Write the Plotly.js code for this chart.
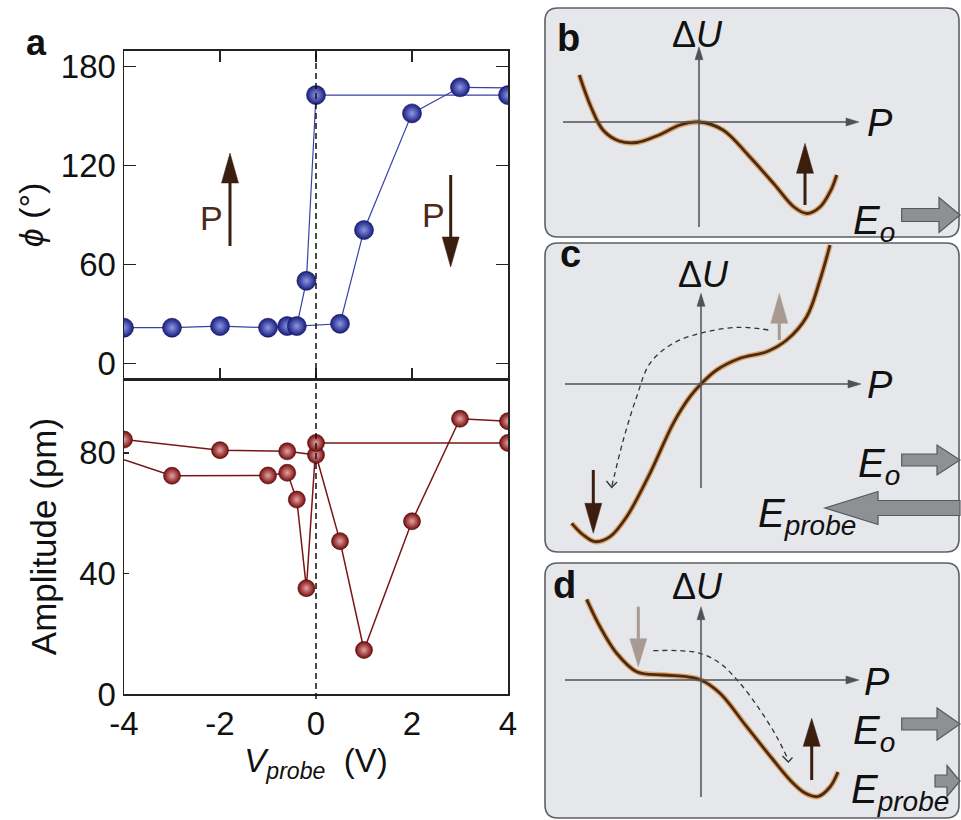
<!DOCTYPE html>
<html><head><meta charset="utf-8">
<script src="https://cdn.plot.ly/plotly-3.0.1.min.js"></script>
<style>html,body{margin:0;padding:0;background:#fff}#chart{width:961px;height:820px}</style>
</head><body><div id="chart"></div>
<script>
// ---------- Panel a data ----------
const vPhaseUp = [-4,-3,-2,-1,-0.6,-0.4,-0.2,0,4];
const phaseUp  = [21.6,21.6,22.6,21.6,22.6,22.6,50,162.6,162.6];
const vPhaseDn = [-0.4,0.5,1,2,3,4];
const phaseDn  = [22.6,24,80.8,151.5,167.3,167];
const vAmpA = [-4,-2,-0.6,0,0.5,1,2,3,4];
const ampA  = [84.4,80.9,80.5,79.3,50.7,14.6,57.3,91.3,90.5];
const vAmpB = [-4,-3,-1,-0.6,-0.4,-0.2,0,4];
const ampB  = [77.7,72.4,72.5,73.4,64.5,35.1,83.3,83.3];
const phaseTicks = [0,60,120,180];
const ampTicks = [0,40,80];
const vTicks = [-4,-2,0,2,4];
const vTickText = ['-4','-2','0','2','4'];

const curveB_P = [-119.7,-108,-96,-80,-62,-40,-19,0,24,50,75,95,108,121,132,137.7];
const curveB_U = [47,15,-8,-19,-20.5,-13,-3,0,-8,-34,-62,-85,-91.5,-85,-68,-53];
const curveC_P = [-129.3,-117.7,-106,-91,-74.3,-51,-27.7,-11,0,15.7,39,65.7,85.7,105.7,119,129];
const curveC_U = [-139.3,-151,-157.7,-152.7,-132.7,-89.3,-39.3,-12.7,0,14,25.7,32.3,44,67.3,104,139];
const curveD_P = [-114.3,-101,-84.3,-64.3,-37.7,-14.3,0,19,45.7,72.3,90,104,117,129,137];
const curveD_U = [80.7,53.3,26.7,8.3,5,3.3,0,-13.3,-46.7,-80,-101,-113,-116.5,-107,-92];
const dashC_P = [67.3,39,5.7,-27.7,-51,-64.3,-77.7,-89.3];
const dashC_U = [54,56.7,52.3,40.7,20.7,-12.7,-56,-102.7];
const dashD_P = [-47.7,-21,-1,19,39,59,75.7,87.3];
const dashD_U = [29.3,29.3,26.7,16.7,-3.3,-30,-56.7,-80];

// ---------- helpers ----------
const W = 961, H = 820;
const X = px => px / W, Y = py => 1 - py / H;
const FONT = 'Liberation Sans, Arial, sans-serif';
function pathPx(pts, close) {
  return pts.map((p, i) => (i ? 'L' : 'M') + X(p[0]).toFixed(5) + ',' + Y(p[1]).toFixed(5)).join(' ') + (close ? ' Z' : '');
}
function pp(x, y) { return X(x).toFixed(5) + ',' + Y(y).toFixed(5); }
function roundRect(l, t, r, b, rad) {
  return 'M' + pp(l + rad, t) + ' L' + pp(r - rad, t) + ' Q' + pp(r, t) + ' ' + pp(r, t + rad) +
    ' L' + pp(r, b - rad) + ' Q' + pp(r, b) + ' ' + pp(r - rad, b) +
    ' L' + pp(l + rad, b) + ' Q' + pp(l, b) + ' ' + pp(l, b - rad) +
    ' L' + pp(l, t + rad) + ' Q' + pp(l, t) + ' ' + pp(l + rad, t) + ' Z';
}
function arrow(x0, y0, x1, y1, color, lw, headL, headW) {
  const dx = x1 - x0, dy = y1 - y0, len = Math.hypot(dx, dy);
  const ux = dx / len, uy = dy / len, nx = -uy, ny = ux;
  const bx = x1 - ux * headL, by = y1 - uy * headL;
  return [
    {type: 'line', xref: 'paper', yref: 'paper', x0: X(x0), y0: Y(y0), x1: X(bx + ux * 1), y1: Y(by + uy * 1), line: {color: color, width: lw}},
    {type: 'path', xref: 'paper', yref: 'paper', path: pathPx([[bx + nx * headW / 2, by + ny * headW / 2], [bx - nx * headW / 2, by - ny * headW / 2], [x1, y1]], true), fillcolor: color, line: {color: color, width: 0.5}}
  ];
}
function blockArrow(xTail, xTip, yc, bodyH, headH, headL) {
  const s = Math.sign(xTip - xTail), hb = xTip - s * headL;
  return {type: 'path', xref: 'paper', yref: 'paper',
    path: pathPx([[xTail, yc - bodyH / 2], [hb, yc - bodyH / 2], [hb, yc - headH / 2], [xTip, yc], [hb, yc + headH / 2], [hb, yc + bodyH / 2], [xTail, yc + bodyH / 2]], true),
    fillcolor: '#8e9194', line: {color: '#55585c', width: 1.2}};
}
function chevron(pts) {
  return {type: 'path', xref: 'paper', yref: 'paper', path: pathPx(pts, false), line: {color: '#333', width: 1.3}};
}

// ---------- panel geometry ----------
const panels = {
  b: {l: 545, t: 8, r: 959, b: 237, ox: 699, oy: 122, ax: 3},
  c: {l: 545, t: 243, r: 959, b: 552, ox: 701, oy: 384, ax: 4},
  d: {l: 545, t: 563, r: 959, b: 818, ox: 701, oy: 680, ax: 5}
};

// ---------- traces ----------
const blueMarker = {size: 19, color: '#181d7c', gradient: {type: 'radial', color: '#8d97e6'}, line: {width: 0.6, color: '#10145a'}};
const redMarker = {size: 17, color: '#760b0b', gradient: {type: 'radial', color: '#e6a3a3'}, line: {width: 0.6, color: '#4a0606'}};
const blueLine = {color: '#3a40a8', width: 1.2};
const redLine = {color: '#7a1515', width: 1.5};
function lineTrace(x, y, xa, ya, line) { return {x: x, y: y, xaxis: xa, yaxis: ya, mode: 'lines', line: line, cliponaxis: true, showlegend: false}; }
function markTrace(x, y, xa, ya, marker) { return {x: x, y: y, xaxis: xa, yaxis: ya, mode: 'markers', marker: marker, cliponaxis: true, showlegend: false}; }
const traces = [
  lineTrace(vPhaseDn, phaseDn, 'x', 'y', blueLine),
  lineTrace(vPhaseUp, phaseUp, 'x', 'y', blueLine),
  markTrace(vPhaseDn.slice(1, -1), phaseDn.slice(1, -1), 'x', 'y', blueMarker),
  markTrace(vPhaseUp, phaseUp, 'x', 'y', blueMarker),
  lineTrace(vAmpA, ampA, 'x2', 'y2', redLine),
  lineTrace(vAmpB, ampB, 'x2', 'y2', redLine),
  markTrace(vAmpA, ampA, 'x2', 'y2', redMarker),
  markTrace(vAmpB.slice(1), ampB.slice(1), 'x2', 'y2', redMarker)
];
const curves = [[curveB_P, curveB_U, 3], [curveC_P, curveC_U, 4], [curveD_P, curveD_U, 5]];
curves.forEach(([px, py, n]) => {
  traces.push({x: px, y: py, xaxis: 'x' + n, yaxis: 'y' + n, mode: 'lines', line: {color: '#dba873', width: 5.5, shape: 'spline', smoothing: 1}, showlegend: false});
  traces.push({x: px, y: py, xaxis: 'x' + n, yaxis: 'y' + n, mode: 'lines', line: {color: '#4e2a10', width: 2.8, shape: 'spline', smoothing: 1}, showlegend: false});
});
traces.push({x: dashC_P, y: dashC_U, xaxis: 'x4', yaxis: 'y4', mode: 'lines', line: {color: '#333', width: 1.3, dash: '5px,4px', shape: 'spline'}, showlegend: false});
traces.push({x: dashD_P, y: dashD_U, xaxis: 'x5', yaxis: 'y5', mode: 'lines', line: {color: '#333', width: 1.3, dash: '5px,4px', shape: 'spline'}, showlegend: false});

// ---------- layout ----------
const tickFont = {family: FONT, size: 33, color: '#111'};
const axLine = {showline: true, linecolor: '#222', linewidth: 1.5, showgrid: false, zeroline: false, tickcolor: '#222', tickwidth: 1.5, tickfont: tickFont};
const layout = {
  width: W, height: H, margin: {l: 0, r: 0, t: 0, b: 0},
  paper_bgcolor: '#ffffff', plot_bgcolor: 'rgba(0,0,0,0)', showlegend: false,
  font: {family: FONT, color: '#111'},
  xaxis: Object.assign({}, axLine, {domain: [124 / W, 508 / W], range: [-4, 4], anchor: 'y', showticklabels: false, ticks: 'inside', ticklen: 11, mirror: 'ticks', tickvals: vTicks}),
  yaxis: Object.assign({}, axLine, {domain: [1 - 379 / H, 1 - 50.7 / H], range: [-9.5, 189.5], anchor: 'x', ticks: 'inside', ticklen: 12, mirror: 'ticks', tickvals: phaseTicks,
    title: {text: '<i>ϕ</i> (°)', font: {family: FONT, size: 34, color: '#111'}, standoff: 7}}),
  xaxis2: Object.assign({}, axLine, {domain: [124 / W, 508 / W], range: [-4, 4], anchor: 'y2', ticks: '', mirror: true, tickvals: vTicks, ticktext: vTickText,
    title: {text: '<i>V<sub>probe</sub></i>  (V)', font: {family: FONT, size: 33, color: '#111'}, standoff: 4}}),
  yaxis2: Object.assign({}, axLine, {domain: [1 - 694 / H, 1 - 379 / H], range: [0, 104.5], anchor: 'x2', ticks: 'inside', ticklen: 5, mirror: true, tickvals: ampTicks,
    title: {text: 'Amplitude (pm)', font: {family: FONT, size: 35, color: '#111'}, standoff: 12}}),
  shapes: [], annotations: []
};
Object.values(panels).forEach(p => {
  layout['xaxis' + p.ax] = {domain: [p.l / W, p.r / W], range: [p.l - p.ox, p.r - p.ox], anchor: 'y' + p.ax, visible: false, fixedrange: true};
  layout['yaxis' + p.ax] = {domain: [1 - p.b / H, 1 - p.t / H], range: [p.oy - p.b, p.oy - p.t], anchor: 'x' + p.ax, visible: false, fixedrange: true};
  layout.shapes.push({type: 'path', xref: 'paper', yref: 'paper', layer: 'below', path: roundRect(p.l, p.t, p.r, p.b, 13), fillcolor: '#e5e7ea', line: {color: '#5c5f63', width: 1.6}});
});
// zero-voltage dashed line
layout.shapes.push({type: 'line', xref: 'x', yref: 'paper', x0: 0, x1: 0, y0: Y(699), y1: Y(50.7), line: {color: '#111', width: 1.5, dash: '6px,4px'}});
// P arrows in panel a
const brown = '#3b1e0e';
layout.shapes.push(...arrow(230, 246, 230, 153, brown, 3, 30, 17));
layout.shapes.push(...arrow(450.7, 175, 450.7, 267, brown, 3, 30, 17));
// coordinate axes in b, c, d
const axc = '#4b5258';
layout.shapes.push(...arrow(563, 122, 859, 122, axc, 1.5, 13, 8), ...arrow(699, 227, 699, 46.7, axc, 1.5, 13, 8));
layout.shapes.push(...arrow(565, 384, 861, 384, axc, 1.5, 13, 8), ...arrow(701, 488, 701, 293.3, axc, 1.5, 13, 8));
layout.shapes.push(...arrow(565, 680, 859, 680, axc, 1.5, 13, 8), ...arrow(701, 797, 701, 606.7, axc, 1.5, 13, 8));
// polarization arrows in b, c, d
const light = '#a99a91';
layout.shapes.push(...arrow(805, 205, 805, 143.3, brown, 3, 30, 17));
layout.shapes.push(...arrow(779.3, 340, 779.3, 293.3, light, 3, 30, 17));
layout.shapes.push(...arrow(593.3, 470, 593.3, 533.3, brown, 3, 30, 17));
layout.shapes.push(...arrow(638.3, 606.7, 638.3, 666.7, light, 3, 28, 17));
layout.shapes.push(...arrow(811.7, 780, 811.7, 718.3, brown, 3, 28, 17));
// chevrons at the end of dashed paths
layout.shapes.push(chevron([[606.5, 481], [611.7, 487.5], [617, 482]]));
layout.shapes.push(chevron([[782.5, 756], [788.3, 762], [792.5, 757.5]]));
// field block arrows
layout.shapes.push(blockArrow(901.7, 960, 215, 13, 35, 21));
layout.shapes.push(blockArrow(901.7, 960, 460, 12, 30, 23));
layout.shapes.push(blockArrow(960, 825, 508, 15, 33, 53));
layout.shapes.push(blockArrow(901.7, 960, 724, 12, 32, 23));
layout.shapes.push(blockArrow(935, 960, 781, 12, 31, 13));

// ---------- text ----------
function txt(text, x, y, size, opts) {
  return Object.assign({text: text, xref: 'paper', yref: 'paper', x: X(x), y: Y(y), showarrow: false, xanchor: 'center', yanchor: 'middle',
    font: {family: FONT, size: size, color: '#111'}}, opts || {});
}
layout.annotations.push(
  txt('<b>a</b>', 36, 42, 36),
  txt('P', 211, 218, 34, {font: {family: FONT, size: 34, color: '#4a2a18'}}),
  txt('P', 433, 215, 34, {font: {family: FONT, size: 34, color: '#4a2a18'}}),
  txt('<b>b</b>', 568, 38, 38),
  txt('<b>c</b>', 570, 254, 38),
  txt('<b>d</b>', 564, 585, 38),
  txt('Δ<i>U</i>', 697, 34, 36),
  txt('Δ<i>U</i>', 703, 274, 36),
  txt('Δ<i>U</i>', 697, 586, 36),
  txt('<i>P</i>', 880, 123, 38),
  txt('<i>P</i>', 880, 385, 38),
  txt('<i>P</i>', 877, 682, 38),
  txt('<i>E<sub>o</sub></i>', 851, 223, 40, {xanchor: 'left'}),
  txt('<i>E<sub>o</sub></i>', 856, 466, 40, {xanchor: 'left'}),
  txt('<i>E<sub>probe</sub></i>', 756, 516, 40, {xanchor: 'left'}),
  txt('<i>E<sub>o</sub></i>', 851, 733, 40, {xanchor: 'left'}),
  txt('<i>E<sub>probe</sub></i>', 849, 792, 40, {xanchor: 'left'})
);

Plotly.newPlot('chart', traces, layout, {staticPlot: true});
</script></body></html>
